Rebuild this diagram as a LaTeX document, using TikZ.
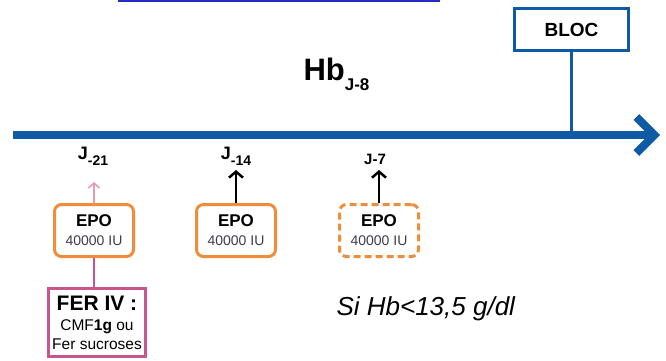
\documentclass[tikz,border=0pt]{standalone}
\usepackage{fontspec}
\setmainfont{Liberation Sans}
\usetikzlibrary{shapes, arrows.meta, positioning}
\definecolor{axisblue}{RGB}{14,90,165}
\definecolor{topblue}{RGB}{35,45,195}
\definecolor{epoorange}{RGB}{238,142,60}
\definecolor{ferpink}{RGB}{200,85,140}
\definecolor{lightpink}{RGB}{232,150,180}
\definecolor{iugray}{RGB}{60,60,80}
\newcommand{\fs}[1]{\fontsize{#1}{#1}\selectfont}
\newcommand{\subj}[1]{\raisebox{-6pt}{\fs{14}#1}}
\tikzstyle{axis} = [draw=axisblue, line width=8pt, -{Straight Barb[length=18pt, width=36pt]}]
\tikzstyle{bloc} = [draw=axisblue, line width=3pt, fill=white, rectangle, minimum width=114pt, minimum height=42pt, font=\bfseries\fs{19}]
\tikzstyle{epo} = [draw=epoorange, line width=3pt, rounded corners=7pt, fill=white, rectangle, minimum width=79pt, minimum height=52pt, inner sep=0pt, align=center, font=\bfseries\fontsize{17}{19}\selectfont]
\tikzstyle{fer} = [draw=ferpink, line width=3pt, fill=white, rectangle, minimum width=97pt, minimum height=68pt, inner sep=0pt, align=center, font=\fontsize{15.5}{19}\selectfont]
\tikzstyle{day} = [anchor=base, font=\bfseries\fs{18}]
\newcommand{\iu}{{\mdseries\color{iugray}\fs{14}40000 IU}}

\begin{document}
\begin{tikzpicture}[x=1pt, y=-1pt, >=latex]
    \useasboundingbox (0,0) rectangle (666,361);
    \draw[topblue, line width=2.5pt] (118,1) -- (440,1);
    % time line
    \coordinate (start) at (13,135);
    \coordinate (stop) at (660,135);
    \draw[axis] (start) -- (stop);
    \node[bloc] (bloc) at (571.5,29.5) {BLOC};
    \draw[axisblue, line width=2.5pt] (bloc.south) -- (bloc.south |- start);
    \node[anchor=base west, font=\bfseries\fs{31}] (hb) at (300,80) {Hb\raisebox{-10pt}{\fs{17}J-8}};
    % injections
    \node[epo] (epo21) at (94,230.5) {EPO\\\iu};
    \node[epo] (epo14) at (236,230.5) {EPO\\\iu};
    \node[epo, dash pattern=on 7pt off 4pt] (epo7) at (379,230.5) {EPO\\\iu};
    \node[day] (j21) at (93,159) {J\subj{-21}};
    \node[day] (j14) at (236,159) {J\subj{-14}};
    \node[day, font=\bfseries\fs{15}] (j7) at (375,164) {J-7};
    \coordinate (t21) at (94,182);
    \coordinate (t14) at (236,170);
    \coordinate (t7) at (379,170);
    \draw[-{Straight Barb[length=5pt, width=11pt]}, lightpink, line width=1.5pt] (epo21.north) -- (t21);
    \draw[-{Straight Barb[length=6pt, width=14pt]}, line width=2.5pt] (epo14.north) -- (t14);
    \draw[-{Straight Barb[length=6pt, width=14pt]}, line width=2.5pt] (epo7.north) -- (t7);
    % iron
    \node[fer] (fer) at (97,322.5) {{\bfseries\fs{21}FER IV :}\\[1pt]CMF\textbf{1g} ou\\Fer sucroses};
    \draw[ferpink, line width=1.5pt] (epo21.south) -- (epo21.south |- fer.north);
    \node[anchor=base west, font=\itshape\fs{26}] (cond) at (333,315) {Si Hb<13,5 g/dl};
\end{tikzpicture}
\end{document}
